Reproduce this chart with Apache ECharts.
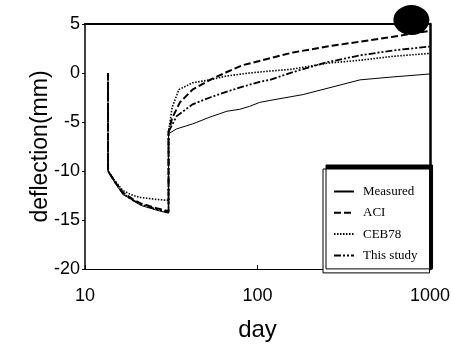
<!DOCTYPE html>
<html><head><meta charset="utf-8">
<script src="https://cdn.jsdelivr.net/npm/echarts@6/dist/echarts.min.js"></script>
<style>html,body{margin:0;padding:0;background:#fff}#c{width:453px;height:347px}</style>
</head><body><div id="c"></div>
<script>
const seriesNames = ['Measured', 'ACI', 'CEB78', 'This study'];
const yTicks = [-20, -15, -10, -5, 0, 5];
const xTicks = [10, 100, 1000];
const measured = [[13.6,0],[13.6,-10],[14.9,-11.2],[16.6,-12.4],[19,-13.0],[21,-13.5],[26,-14.0],[30.5,-14.3],[30.5,-6.2],[34,-5.7],[42,-5.2],[53,-4.5],[66.5,-3.9],[79,-3.7],[90,-3.4],[103,-3.0],[118,-2.8],[184,-2.2],[393,-0.7],[610,-0.4],[1000,-0.1]];
const aci = [[13.6,0],[13.6,-10],[14.9,-11.1],[16.6,-12.2],[19,-12.9],[21,-13.3],[26,-13.8],[30.5,-14.1],[30.5,-6.0],[32,-4.6],[35.5,-3.0],[42,-1.7],[53,-0.7],[66.5,0.1],[82,0.8],[118,1.5],[161,2.1],[253,2.7],[393,3.2],[610,3.7],[1000,4.3]];
const ceb78 = [[13.6,0],[13.6,-10],[14.9,-11.0],[16.6,-12.0],[19,-12.5],[21,-12.7],[26,-12.9],[30.5,-13.0],[30.5,-6.0],[32,-3.5],[35,-1.7],[42,-1.0],[53,-0.7],[66.5,-0.3],[90,0.0],[103,0.1],[118,0.2],[161,0.4],[253,1.0],[393,1.3],[610,1.7],[1000,2.0]];
const thisStudy = [[13.6,0],[13.6,-10],[14.9,-11.1],[16.6,-12.3],[19,-13.0],[21,-13.4],[26,-13.9],[30.5,-14.2],[30.5,-6.0],[34,-4.4],[42,-3.2],[53,-2.5],[66.5,-1.9],[82,-1.4],[103,-0.9],[118,-0.7],[161,0.1],[253,1.1],[393,1.8],[610,2.3],[1000,2.7]];
const blob = [[780, 5.4]];

const chart = echarts.init(document.getElementById('c'), null, {renderer: 'canvas'});
const lbl = {color: '#000', fontFamily: 'Liberation Sans', fontSize: 18};
const mk = (name, data, type, width) => ({
  name, type: 'line', data, symbol: 'none', animation: false,
  lineStyle: {color: '#000', width, type},
  itemStyle: {color: '#000'}
});
chart.setOption({
  animation: false,
  backgroundColor: '#fff',
  grid: {left: 85, right: 23, top: 24, bottom: 76},
  xAxis: [{
    type: 'log', logBase: 10, min: xTicks[0], max: xTicks[xTicks.length - 1],
    name: 'day', nameLocation: 'middle', nameGap: 49,
    nameTextStyle: {color: '#000', fontFamily: 'Liberation Sans', fontSize: 24},
    axisLine: {onZero: false, lineStyle: {color: '#000', width: 1.2}},
    axisTick: {inside: true, length: 4, lineStyle: {color: '#000'}},
    axisLabel: Object.assign({margin: 18, formatter: v => String(v)}, lbl),
    splitLine: {show: false}
  }, {
    type: 'log', logBase: 10, position: 'top', min: xTicks[0], max: xTicks[xTicks.length - 1],
    axisLine: {onZero: false, lineStyle: {color: '#000', width: 2.2}},
    axisTick: {show: false}, axisLabel: {show: false}, splitLine: {show: false}
  }],
  yAxis: [{
    type: 'value', min: yTicks[0], max: yTicks[yTicks.length - 1], interval: 5,
    name: 'deflection(mm)', nameLocation: 'middle', nameGap: 33, nameMoveOverlap: false,
    nameTextStyle: {color: '#000', fontFamily: 'Liberation Sans', fontSize: 23},
    axisLine: {show: true, onZero: false, lineStyle: {color: '#000', width: 1.5}},
    axisTick: {show: true, length: 3, lineStyle: {color: '#000'}},
    axisLabel: Object.assign({margin: 5}, lbl),
    splitLine: {show: false}
  }, {
    type: 'value', position: 'right', min: yTicks[0], max: yTicks[yTicks.length - 1], interval: 5,
    axisLine: {show: true, onZero: false, lineStyle: {color: '#000', width: 2.5}},
    axisTick: {show: false}, axisLabel: {show: false}, splitLine: {show: false}
  }],
  legend: {
    data: seriesNames, orient: 'vertical', left: 323, top: 169,
    padding: [16, 12, 11, 10], itemGap: 8.3, itemWidth: 20, itemHeight: 13,
    backgroundColor: '#fff', borderColor: '#000', borderWidth: 1, borderRadius: 0,
    shadowColor: '#000', shadowBlur: 0, shadowOffsetX: 3, shadowOffsetY: -4,
    itemStyle: {opacity: 0},
    textStyle: {color: '#000', fontFamily: 'Liberation Serif', fontSize: 13, padding: [0, 0, 0, 4]}
  },
  series: [
    mk(seriesNames[0], measured, 'solid', 1),
    mk(seriesNames[1], aci, [7, 3], 2),
    mk(seriesNames[2], ceb78, [1.5, 1.5], 1.6),
    mk(seriesNames[3], thisStudy, [7, 2, 2, 2, 2, 2], 1.8),
    {type: 'scatter', data: blob, symbol: 'circle', symbolSize: [36, 30], clip: false,
     itemStyle: {color: '#000', opacity: 1}, silent: true, z: 5}
  ]
});
</script></body></html>
